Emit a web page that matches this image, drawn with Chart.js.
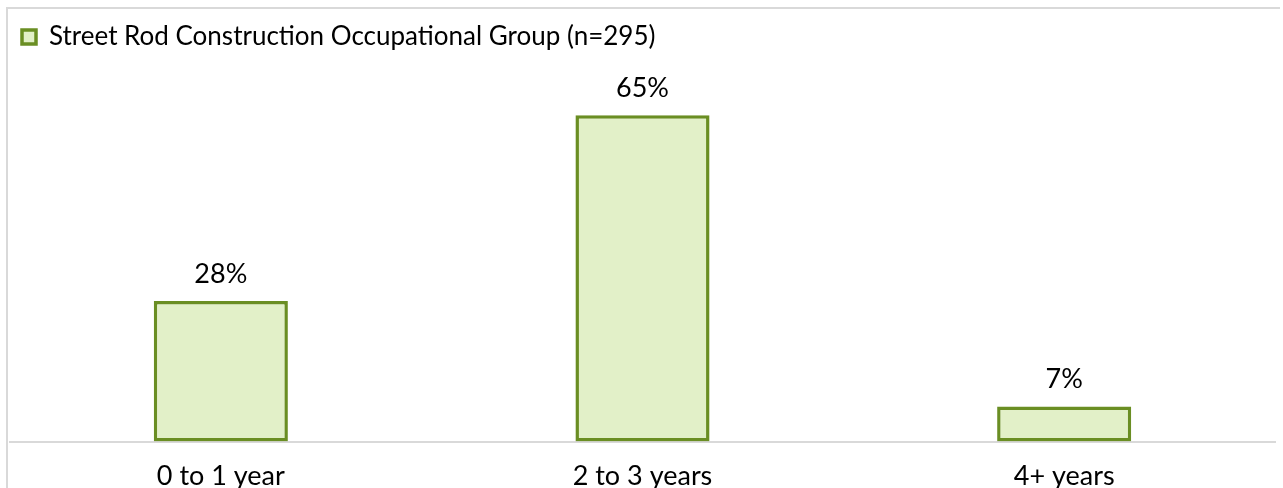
<!DOCTYPE html>
<html>
<head>
<meta charset="utf-8">
<script src="https://cdn.jsdelivr.net/npm/chart.js@4"></script>
<style>
  html, body { margin: 0; padding: 0; background: #fff; overflow: hidden; }
  #frame {
    position: absolute; left: 6px; top: 7px; width: 1272px; height: 500px;
    border-top: 2px solid #d9d9d9; border-left: 2px solid #d9d9d9;
  }
  #wrap { position: absolute; left: 0; top: 0; width: 1283px; height: 488px; }
</style>
</head>
<body>
<div id="frame"></div>
<div id="wrap"><canvas id="chart" width="1283" height="488"></canvas></div>
<script>
// ── Data ─────────────────────────────────────────────────────────────────────
const categories  = ['0 to 1 year', '2 to 3 years', '4+ years'];
const seriesLabel = 'Street Rod Construction Occupational Group (n=295)';
const seriesVals  = [28, 65, 7];

// ── Colours ──────────────────────────────────────────────────────────────────
const GREEN_LINE = '#6a8e23';
const GREEN_FILL = '#e2f0c8';
const FONT = "'Lato', 'Noto Sans', sans-serif";

// value labels above each bar
const valueLabels = {
  id: 'valueLabels',
  afterDatasetsDraw(chart) {
    const ctx = chart.ctx;
    const meta = chart.getDatasetMeta(0);
    ctx.save();
    ctx.font = `27px ${FONT}`;
    ctx.fillStyle = '#000';
    ctx.textAlign = 'center';
    ctx.textBaseline = 'middle';
    meta.data.forEach((bar, i) => {
      ctx.fillText(seriesVals[i] + '%', bar.x, bar.y - 27);
    });
    ctx.restore();
  }
};

new Chart(document.getElementById('chart'), {
  type: 'bar',
  data: {
    labels: categories,
    datasets: [{
      label: seriesLabel,
      data: seriesVals,
      backgroundColor: GREEN_FILL,
      borderColor: GREEN_LINE,
      borderWidth: 3.5,
      borderSkipped: false,
      barPercentage: 0.318,
      categoryPercentage: 1,
    }],
  },
  options: {
    responsive: false,
    animation: false,
    layout: { padding: { left: 10, right: 8, top: 12, bottom: -14 } },
    plugins: {
      legend: {
        position: 'top',
        align: 'start',
        labels: {
          font: { family: FONT, size: 26 },
          color: '#000',
          boxWidth: 14,
          boxHeight: 14,
          padding: 12,
        },
      },
      tooltip: { enabled: false },
    },
    scales: {
      x: {
        grid: { display: false },
        border: { color: '#d9d9d9', width: 2 },
        ticks: { font: { family: FONT, size: 27 }, color: '#000', padding: 10 },
      },
      y: {
        display: false,
        min: 0,
        max: 76,
      },
    },
  },
  plugins: [valueLabels],
});
</script>
</body>
</html>
